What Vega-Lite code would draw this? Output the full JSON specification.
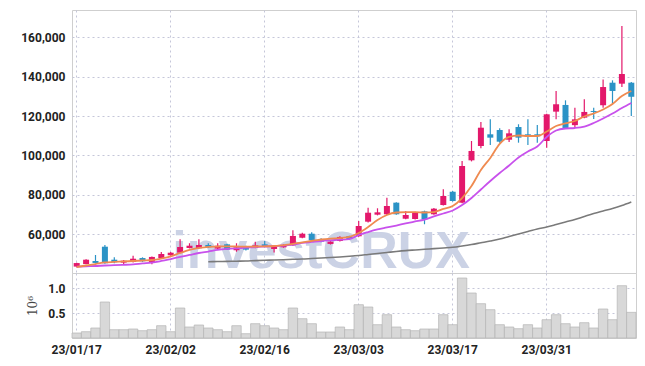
{
  "$schema": "https://vega.github.io/schema/vega-lite/v6.json",
  "padding": {"left": 20, "top": 9, "right": 10, "bottom": 5},
  "background": "white",
  "spacing": 0,
  "bounds": "flush",
  "config": {
    "font": "Roboto",
    "view": {"stroke": "#cfcfcf", "strokeWidth": 1},
    "axis": {
      "gridColor": "#c5c6d9", "gridDash": [2, 3], "gridWidth": 1,
      "labelFont": "Roboto", "labelFontWeight": "bold", "labelFontSize": 12, "labelColor": "#222222",
      "ticks": false, "domain": false
    }
  },
  "data": {"values": [
    {"d":"23/01/17","o":43600,"h":45600,"l":43300,"c":45400,"v":0.10,"ma5":43400,"ma10":43550,"ma60":null},
    {"d":"23/01/18","o":44900,"h":47300,"l":44800,"c":47100,"v":0.126,"ma5":44150,"ma10":43750,"ma60":null},
    {"d":"23/01/19","o":46450,"h":49500,"l":45200,"c":45450,"v":0.20,"ma5":44900,"ma10":43900,"ma60":null},
    {"d":"23/01/20","o":53700,"h":54550,"l":45000,"c":45300,"v":0.72,"ma5":45700,"ma10":44150,"ma60":null},
    {"d":"23/01/25","o":47100,"h":48400,"l":45300,"c":45800,"v":0.166,"ma5":45950,"ma10":44300,"ma60":null},
    {"d":"23/01/26","o":45600,"h":46900,"l":44400,"c":46600,"v":0.166,"ma5":46200,"ma10":44500,"ma60":null},
    {"d":"23/01/27","o":45950,"h":49150,"l":45700,"c":47600,"v":0.18,"ma5":46450,"ma10":44750,"ma60":null},
    {"d":"23/01/30","o":47950,"h":48300,"l":46000,"c":46300,"v":0.146,"ma5":46700,"ma10":45200,"ma60":null},
    {"d":"23/01/31","o":45950,"h":48700,"l":44750,"c":48500,"v":0.166,"ma5":46950,"ma10":45600,"ma60":null},
    {"d":"23/02/01","o":47950,"h":51000,"l":47700,"c":50000,"v":0.246,"ma5":47700,"ma10":46450,"ma60":null},
    {"d":"23/02/02","o":49350,"h":51000,"l":49100,"c":50650,"v":0.126,"ma5":48750,"ma10":47450,"ma60":null},
    {"d":"23/02/03","o":50650,"h":57450,"l":50400,"c":53550,"v":0.60,"ma5":50500,"ma10":48500,"ma60":null},
    {"d":"23/02/06","o":53050,"h":55450,"l":52800,"c":54200,"v":0.22,"ma5":52050,"ma10":49500,"ma60":null},
    {"d":"23/02/07","o":52900,"h":57450,"l":52700,"c":54550,"v":0.26,"ma5":53050,"ma10":50500,"ma60":null},
    {"d":"23/02/08","o":54550,"h":55450,"l":53100,"c":53400,"v":0.20,"ma5":53650,"ma10":51250,"ma60":46050},
    {"d":"23/02/09","o":52700,"h":55450,"l":52050,"c":54200,"v":0.166,"ma5":53800,"ma10":52050,"ma60":46150},
    {"d":"23/02/10","o":54900,"h":55200,"l":52000,"c":52200,"v":0.126,"ma5":53900,"ma10":52550,"ma60":46250},
    {"d":"23/02/13","o":51900,"h":55450,"l":51150,"c":53400,"v":0.246,"ma5":53800,"ma10":52900,"ma60":46350},
    {"d":"23/02/14","o":53200,"h":54200,"l":51800,"c":52200,"v":0.086,"ma5":53700,"ma10":53200,"ma60":46450},
    {"d":"23/02/15","o":53200,"h":56250,"l":52900,"c":54400,"v":0.286,"ma5":53800,"ma10":53550,"ma60":46650},
    {"d":"23/02/16","o":54900,"h":56600,"l":53400,"c":53700,"v":0.246,"ma5":53900,"ma10":53800,"ma60":46800},
    {"d":"23/02/17","o":52550,"h":53900,"l":50700,"c":53700,"v":0.20,"ma5":54050,"ma10":54050,"ma60":46950},
    {"d":"23/02/20","o":53400,"h":55000,"l":53200,"c":54400,"v":0.166,"ma5":54550,"ma10":54300,"ma60":47100},
    {"d":"23/02/21","o":54400,"h":62050,"l":54200,"c":59150,"v":0.60,"ma5":55100,"ma10":54800,"ma60":47300},
    {"d":"23/02/22","o":58250,"h":60800,"l":58000,"c":60300,"v":0.386,"ma5":55850,"ma10":55600,"ma60":47450},
    {"d":"23/02/23","o":60300,"h":61000,"l":56700,"c":56950,"v":0.286,"ma5":56600,"ma10":56100,"ma60":47700},
    {"d":"23/02/24","o":57600,"h":58000,"l":56000,"c":56250,"v":0.12,"ma5":57350,"ma10":56600,"ma60":47950},
    {"d":"23/02/27","o":55100,"h":56500,"l":54800,"c":56250,"v":0.12,"ma5":57850,"ma10":56950,"ma60":48200},
    {"d":"23/02/28","o":56600,"h":59000,"l":56300,"c":58650,"v":0.22,"ma5":58100,"ma10":57250,"ma60":48500},
    {"d":"23/03/02","o":59000,"h":59300,"l":57300,"c":57600,"v":0.166,"ma5":58650,"ma10":57600,"ma60":48850},
    {"d":"23/03/03","o":59000,"h":66750,"l":58700,"c":64200,"v":0.666,"ma5":60650,"ma10":59650,"ma60":49250},
    {"d":"23/03/06","o":66400,"h":73500,"l":66000,"c":70950,"v":0.62,"ma5":63700,"ma10":61150,"ma60":49750},
    {"d":"23/03/07","o":69950,"h":73200,"l":69600,"c":71150,"v":0.266,"ma5":67250,"ma10":62450,"ma60":50250},
    {"d":"23/03/08","o":70150,"h":78600,"l":69800,"c":74350,"v":0.466,"ma5":69800,"ma10":63450,"ma60":50750},
    {"d":"23/03/09","o":76050,"h":76300,"l":69900,"c":70150,"v":0.22,"ma5":71050,"ma10":64450,"ma60":51250},
    {"d":"23/03/10","o":67900,"h":71850,"l":67600,"c":69800,"v":0.166,"ma5":71300,"ma10":65500,"ma60":51700},
    {"d":"23/03/13","o":67750,"h":71400,"l":67500,"c":71050,"v":0.146,"ma5":71300,"ma10":66500,"ma60":52050},
    {"d":"23/03/14","o":71650,"h":72000,"l":65100,"c":67600,"v":0.18,"ma5":71050,"ma10":67500,"ma60":52400},
    {"d":"23/03/15","o":70150,"h":73300,"l":69900,"c":73000,"v":0.18,"ma5":71300,"ma10":69050,"ma60":52700},
    {"d":"23/03/16","o":74850,"h":82850,"l":74600,"c":79450,"v":0.466,"ma5":72850,"ma10":70550,"ma60":53050},
    {"d":"23/03/17","o":81600,"h":82000,"l":76600,"c":76900,"v":0.266,"ma5":74350,"ma10":72100,"ma60":53400},
    {"d":"23/03/20","o":76050,"h":97200,"l":75700,"c":94650,"v":1.2,"ma5":78400,"ma10":74850,"ma60":54050},
    {"d":"23/03/21","o":97550,"h":107350,"l":97000,"c":102300,"v":0.9,"ma5":84500,"ma10":78450,"ma60":54800},
    {"d":"23/03/22","o":104800,"h":117000,"l":103650,"c":114100,"v":0.686,"ma5":92650,"ma10":82750,"ma60":55700},
    {"d":"23/03/23","o":110750,"h":118350,"l":105350,"c":109050,"v":0.566,"ma5":98750,"ma10":87050,"ma60":56600},
    {"d":"23/03/24","o":112950,"h":113800,"l":106500,"c":107000,"v":0.266,"ma5":105850,"ma10":91100,"ma60":57600},
    {"d":"23/03/27","o":108000,"h":113300,"l":106850,"c":111250,"v":0.22,"ma5":109400,"ma10":94900,"ma60":58900},
    {"d":"23/03/28","o":114450,"h":115850,"l":106500,"c":109050,"v":0.186,"ma5":110150,"ma10":99000,"ma60":60150},
    {"d":"23/03/29","o":110750,"h":118350,"l":105350,"c":109750,"v":0.266,"ma5":109900,"ma10":102050,"ma60":61400},
    {"d":"23/03/30","o":110750,"h":115500,"l":106500,"c":109750,"v":0.20,"ma5":109900,"ma10":104550,"ma60":62700},
    {"d":"23/03/31","o":107350,"h":121200,"l":103950,"c":120900,"v":0.366,"ma5":112200,"ma10":109400,"ma60":63700},
    {"d":"23/04/03","o":122250,"h":132750,"l":118350,"c":126000,"v":0.466,"ma5":114950,"ma10":112700,"ma60":64950},
    {"d":"23/04/04","o":125650,"h":128000,"l":113500,"c":113800,"v":0.286,"ma5":116250,"ma10":113700,"ma60":66250},
    {"d":"23/04/05","o":115400,"h":124250,"l":113950,"c":118350,"v":0.22,"ma5":117500,"ma10":113950,"ma60":67500},
    {"d":"23/04/06","o":119200,"h":128550,"l":118900,"c":122100,"v":0.306,"ma5":119800,"ma10":114700,"ma60":69050},
    {"d":"23/04/07","o":122600,"h":124250,"l":118500,"c":122100,"v":0.20,"ma5":121300,"ma10":116500,"ma60":70550},
    {"d":"23/04/10","o":125500,"h":138600,"l":124250,"c":134750,"v":0.58,"ma5":123350,"ma10":118800,"ma60":71850},
    {"d":"23/04/11","o":136950,"h":138150,"l":126150,"c":132750,"v":0.366,"ma5":126150,"ma10":121300,"ma60":73100},
    {"d":"23/04/12","o":136450,"h":165750,"l":134750,"c":141350,"v":1.046,"ma5":130200,"ma10":124100,"ma60":74600},
    {"d":"23/04/13","o":136950,"h":137300,"l":120050,"c":129800,"v":0.513,"ma5":132750,"ma10":126650,"ma60":76400}
  ]},
  "vconcat": [
    {
      "width": 564,
      "height": 263,
      "encoding": {
        "x": {"field": "d", "type": "ordinal", "sort": null,
              "scale": {"paddingInner": 0, "paddingOuter": 0,
                        "domain": ["23/01/17","23/01/18","23/01/19","23/01/20","23/01/25","23/01/26","23/01/27","23/01/30","23/01/31","23/02/01","23/02/02","23/02/03","23/02/06","23/02/07","23/02/08","23/02/09","23/02/10","23/02/13","23/02/14","23/02/15","23/02/16","23/02/17","23/02/20","23/02/21","23/02/22","23/02/23","23/02/24","23/02/27","23/02/28","23/03/02","23/03/03","23/03/06","23/03/07","23/03/08","23/03/09","23/03/10","23/03/13","23/03/14","23/03/15","23/03/16","23/03/17","23/03/20","23/03/21","23/03/22","23/03/23","23/03/24","23/03/27","23/03/28","23/03/29","23/03/30","23/03/31","23/04/03","23/04/04","23/04/05","23/04/06","23/04/07","23/04/10","23/04/11","23/04/12","23/04/13"]},
              "axis": {"labels": false, "title": null, "grid": true, "bandPosition": 0.5, "minExtent": 0, "maxExtent": 0, "labelPadding": 0, "offset": 0,
                       "values": ["23/01/17","23/02/02","23/02/16","23/03/03","23/03/17","23/03/31"]}}
      },
      "layer": [
        {
          "transform": [{"filter": "datum.d == '23/02/24'"}],
          "mark": {"type": "text", "text": "investCRUX", "font": "Liberation Sans", "fontWeight": "bold", "fontSize": 52, "color": "#cbd2e5", "baseline": "middle", "align": "center"},
          "encoding": {
            "y": {"datum": 50800, "type": "quantitative"}
          }
        },
        {
          "mark": {"type": "rule", "strokeWidth": 1.2},
          "encoding": {
            "y": {"field": "l", "type": "quantitative",
                  "scale": {"domain": [40350, 173850], "nice": false, "zero": false},
                  "axis": {"title": null, "values": [60000, 80000, 100000, 120000, 140000, 160000], "format": ",d", "labelPadding": 7, "grid": true}},
            "y2": {"field": "h"},
            "color": {"condition": {"test": "datum.c >= datum.o", "value": "#e3186b"}, "value": "#2b93c6"}
          }
        },
        {
          "mark": {"type": "bar", "size": 6},
          "encoding": {
            "y": {"field": "o", "type": "quantitative"},
            "y2": {"field": "c"},
            "color": {"condition": {"test": "datum.c >= datum.o", "value": "#e3186b"}, "value": "#2b93c6"}
          }
        },
        {
          "mark": {"type": "line", "color": "#7a7a7a", "strokeWidth": 1.6, "interpolate": "monotone"},
          "encoding": {"y": {"field": "ma60", "type": "quantitative"}}
        },
        {
          "mark": {"type": "line", "color": "#c851ec", "strokeWidth": 1.8, "interpolate": "monotone"},
          "encoding": {"y": {"field": "ma10", "type": "quantitative"}}
        },
        {
          "mark": {"type": "line", "color": "#ef8a50", "strokeWidth": 1.8, "interpolate": "monotone"},
          "encoding": {"y": {"field": "ma5", "type": "quantitative"}}
        }
      ]
    },
    {
      "width": 564,
      "height": 65,
      "mark": {"type": "bar", "width": {"band": 1}, "color": "#d8d8d8", "stroke": "#b5b5b5", "strokeWidth": 0.7},
      "encoding": {
        "x": {"field": "d", "type": "ordinal", "sort": null,
              "scale": {"paddingInner": 0, "paddingOuter": 0},
              "axis": {"title": null, "grid": true, "bandPosition": 0.5, "labelAngle": 0, "labelPadding": 6, "labelOverlap": false,
                       "values": ["23/01/17","23/02/02","23/02/16","23/03/03","23/03/17","23/03/31"]}},
        "y": {"field": "v", "type": "quantitative",
              "scale": {"domain": [0, 1.3], "nice": false},
              "axis": {"title": "10⁶", "titleFont": "DejaVu Serif", "titleFontWeight": "normal", "titleFontSize": 12, "titleColor": "#444444", "titlePadding": 8,
                       "values": [0.5, 1.0], "format": ".1f", "labelPadding": 7, "grid": true}}
      }
    }
  ]
}
